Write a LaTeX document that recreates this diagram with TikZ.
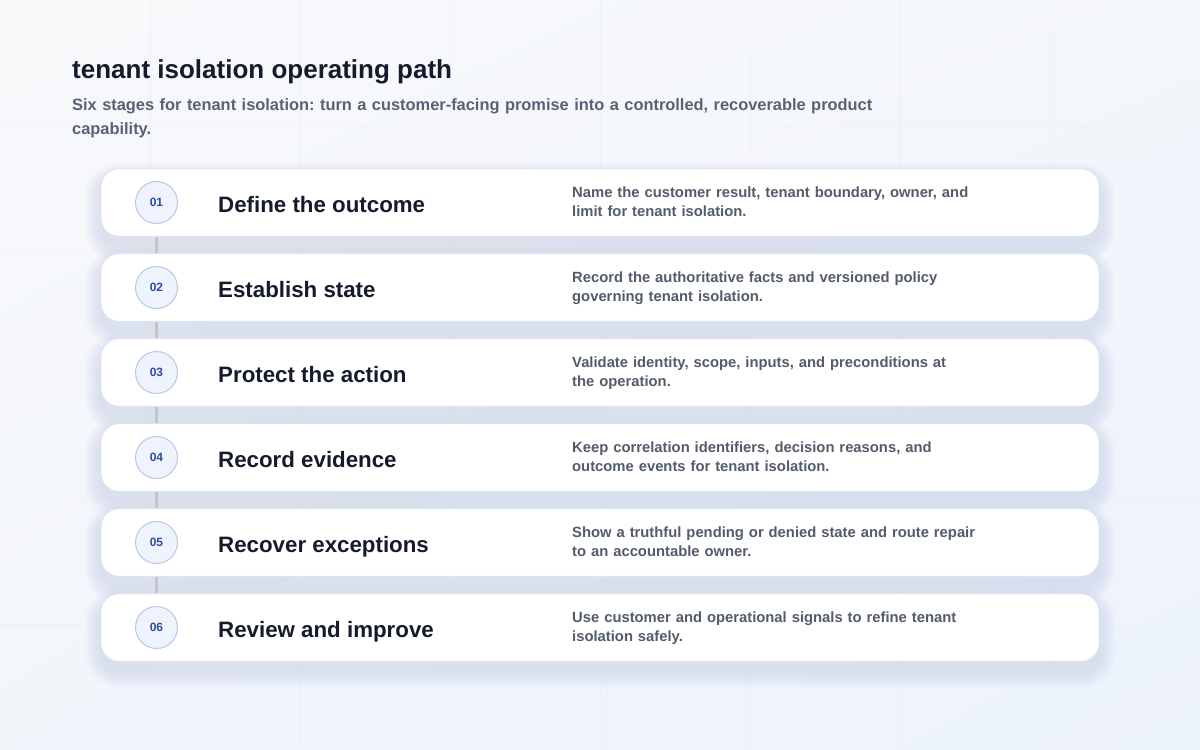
\documentclass[tikz,border=0pt]{standalone}
\usepackage{fontspec}
\setmainfont{Liberation Sans}
\usetikzlibrary{shadings}
\frenchspacing
\definecolor{bgA}{HTML}{F8F9FB}
\definecolor{bgB}{HTML}{ECF2FC}
\definecolor{gridc}{HTML}{E4E9F1}
\definecolor{titlec}{HTML}{141B2D}
\definecolor{subc}{HTML}{596275}
\definecolor{stagec}{HTML}{151B2B}
\definecolor{descc}{HTML}{535C6B}
\definecolor{cardline}{HTML}{DEE3ED}
\definecolor{circfill}{HTML}{EEF3FD}
\definecolor{circline}{HTML}{B9C8E4}
\definecolor{numc}{HTML}{2E4C9C}
\definecolor{connc}{HTML}{C1C5CE}
\definecolor{shadc}{HTML}{5E6882}
\tikzset{
  card/.style={draw=cardline, line width=0.8pt, fill=white, rounded corners=18pt,
    minimum width=998pt, minimum height=67.5pt, inner sep=0pt},
  numcirc/.style={circle, draw=circline, line width=1pt, fill=circfill, minimum size=42pt,
    inner sep=0pt, text=numc, font=\bfseries\fontsize{12}{14}\selectfont},
  stagetitle/.style={anchor=base west, inner sep=0pt, text=stagec, font=\bfseries\fontsize{22.3}{26}\selectfont},
  stagedesc/.style={anchor=base west, inner sep=0pt, text=descc, align=left, text width=480pt,
    font=\bfseries\fontsize{14.8}{19}\selectfont},
  conn/.style={draw=connc, line width=3.5pt},
}
\begin{document}
\begin{tikzpicture}[x=1pt,y=-1pt]
\useasboundingbox (0,0) rectangle (1200,750);
\shade[upper left=bgA, upper right=bgA!60!bgB, lower left=bgA!50!bgB, lower right=bgB] (0,0) rectangle (1200,750);
\foreach \gx in {150,300,...,1050} \draw[gridc, line width=0.8pt, opacity=0.35] (\gx,0) -- (\gx,750);
\foreach \gy in {125,250,...,625} \draw[gridc, line width=0.8pt, opacity=0.35] (0,\gy) -- (1200,\gy);
\node[anchor=base west, inner sep=0pt, text=titlec, font=\bfseries\fontsize{26}{31}\selectfont] (title) at (72,78) {tenant isolation operating path};
\node[anchor=base west, inner sep=0pt, text=subc, align=left, text width=900pt, font=\bfseries\fontsize{16.4}{24}\selectfont] (sub) at (72,110)
  {Six stages for tenant isolation: turn a customer-facing promise into a controlled, recoverable product\\capability.};
% soft shadows
\foreach \k in {0,...,5}{
  \pgfmathsetmacro{\cy}{202.5+85*\k}
  \foreach \i in {1,...,14}
    \fill[shadc, opacity=0.0085, rounded corners=18pt+1.2*\i pt] (101-1.2*\i,\cy-33.75-1.2*\i+10) rectangle (1099+1.2*\i,\cy+33.75+1.2*\i+10);
}
\foreach \n/\t/\da/\db [count=\k from 0] in {
  01/Define the outcome/{Name the customer result, tenant boundary, owner, and}/{limit for tenant isolation.},
  02/Establish state/{Record the authoritative facts and versioned policy}/{governing tenant isolation.},
  03/Protect the action/{Validate identity, scope, inputs, and preconditions at}/{the operation.},
  04/Record evidence/{Keep correlation identifiers, decision reasons, and}/{outcome events for tenant isolation.},
  05/Recover exceptions/{Show a truthful pending or denied state and route repair}/{to an accountable owner.},
  06/Review and improve/{Use customer and operational signals to refine tenant}/{isolation safely.}}{
  \pgfmathsetmacro{\cy}{202.5+85*\k}
  \node[card] (k\n) at (600,\cy) {};
  \node[numcirc] (c\n) at (156.5,\cy) {\n};
  \node[stagetitle] (t\n) at (218,\cy+9.5) {\t};
  \node[stagedesc] (d\n) at (572,\cy-5.5) {\da\\\db};
}
\foreach \a/\b in {01/02,02/03,03/04,04/05,05/06}
  \draw[conn] (c\a |- k\a.south) -- (c\b |- k\b.north);
\end{tikzpicture}
\end{document}
